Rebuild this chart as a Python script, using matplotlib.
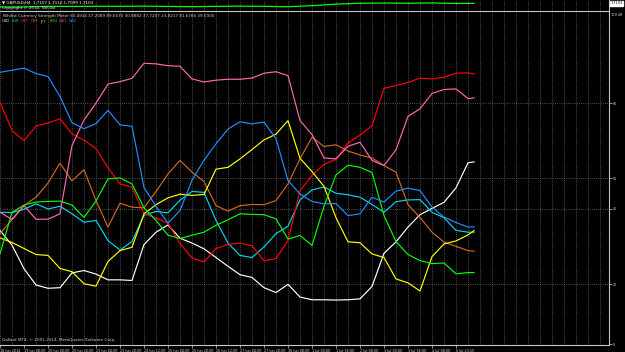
import numpy as np
import matplotlib
matplotlib.use("Agg")
import matplotlib.pyplot as plt
from matplotlib.ticker import MultipleLocator

# ---- data (H4 bars, sampled every 2 bars) ----
bars = np.r_[np.arange(0, 79, 2), 79]

usd = [37.8, 32.9, 25.1, 19.7, 18.6, 18.8, 23.7, 24.5, 23.3, 21.4, 21.4, 21.2, 33.1, 37.2,
       39.6, 35.2, 33.6, 31.7, 28.8, 25.9, 23.1, 22.2, 18.8, 17.2, 19.9, 15.7, 14.8,
       14.8, 14.7, 14.8, 15.1, 19.2, 30.2, 34.0, 38.9, 43.0, 45.1, 47.1, 51.9, 60.2, 60.5]
eur = [43.8, 43.7, 44.8, 46.6, 44.9, 45.8, 43.3, 40.5, 41.1, 34.4, 31.3, 34.1, 42.8, 44.1,
       43.6, 47.8, 50.7, 50.4, 41.1, 33.6, 29.5, 28.8, 32.3, 36.7, 39.2, 47.9, 51.2,
       52.2, 50.1, 49.6, 48.8, 46.4, 43.8, 47.3, 47.9, 48.0, 43.8, 42.0, 37.8, 37.2, 37.2]
gbp = [80.3, 70.9, 67.5, 72.4, 73.4, 74.8, 69.8, 67.7, 64.9, 58.6, 53.2, 52.1, 43.3, 41.9,
       40.2, 33.4, 28.7, 27.3, 31.8, 33.1, 33.6, 32.7, 27.7, 28.5, 34.4, 51.0, 56.0,
       59.7, 61.3, 66.8, 69.3, 72.5, 84.9, 85.8, 86.8, 88.3, 88.0, 88.6, 89.9, 90.0, 89.7]
chf = [36.7, 41.4, 46.0, 48.8, 53.5, 60.1, 54.2, 57.9, 47.7, 38.9, 46.8, 45.5, 45.3, 50.7,
       56.5, 61.0, 57.1, 54.0, 46.0, 44.2, 46.0, 46.4, 46.3, 47.7, 53.2, 61.5, 68.7,
       65.6, 66.2, 64.1, 62.8, 61.8, 59.3, 57.1, 46.3, 42.1, 37.2, 33.9, 32.5, 31.1, 30.9]
jpy = [35.3, 33.8, 31.8, 29.8, 29.5, 25.2, 24.1, 20.1, 19.3, 27.5, 31.1, 32.2, 43.3, 46.3,
       48.6, 49.8, 49.4, 49.7, 58.1, 58.7, 61.5, 64.6, 67.8, 69.7, 74.2, 61.7, 57.3,
       52.4, 42.0, 34.0, 33.7, 30.0, 28.8, 21.7, 20.4, 17.7, 29.1, 33.3, 34.3, 36.3, 37.7]
aud = [30.0, 43.8, 46.2, 47.2, 47.4, 47.5, 46.2, 42.1, 47.5, 54.9, 55.2, 53.2, 45.3, 41.1,
       36.2, 35.1, 36.2, 37.2, 39.5, 41.3, 43.3, 43.1, 43.0, 41.6, 34.9, 36.1, 32.8,
       45.8, 56.2, 59.4, 58.7, 57.0, 42.7, 34.1, 29.8, 27.8, 26.8, 27.0, 23.4, 23.8, 23.8]
cad = [43.8, 41.4, 46.0, 41.5, 41.5, 43.3, 65.9, 74.4, 80.0, 86.3, 87.1, 88.2, 93.2, 93.0,
       92.4, 92.2, 88.0, 87.0, 87.6, 87.9, 87.9, 88.3, 89.9, 90.4, 89.1, 74.2, 69.6,
       61.8, 61.5, 65.7, 67.0, 61.0, 59.3, 64.5, 75.6, 78.1, 83.2, 84.5, 84.7, 81.5, 81.7]
nzd = [90.2, 90.9, 91.6, 89.8, 88.8, 82.2, 73.5, 71.5, 73.2, 77.6, 72.8, 72.3, 52.0, 45.8,
       40.2, 44.4, 54.4, 61.1, 66.5, 71.4, 73.8, 73.1, 73.7, 68.2, 54.3, 49.9, 47.4,
       46.6, 46.7, 42.7, 43.3, 48.8, 47.2, 50.8, 51.8, 51.0, 45.5, 42.2, 40.4, 38.9, 39.0]

currencies = ["USD", "EUR", "GBP", "CHF", "JPY", "AUD", "CAD", "NZD"]
series = [usd, eur, gbp, chf, jpy, aud, cad, nzd]
colors = ["#FFFFFF", "#00D8F0", "#FF0000", "#D2691E", "#FFFF00", "#00FF00", "#FF69B4", "#1E90FF"]
legend_colors = ["#FFFFFF", "#00C0C8", "#FF2020", "#D2691E", "#C8C800", "#00D000", "#E040A0", "#1E90FF"]

levels = [80, 55, 45, 20]

price_bars = np.r_[np.arange(0, 79, 4), 79]
gbpusd = [1.6978, 1.6985, 1.7008, 1.7006, 1.7012, 1.7010, 1.7018, 1.7005, 1.6996, 1.7008,
          1.7018, 1.7010, 1.6992, 1.7040, 1.7110, 1.7150, 1.7158, 1.7150, 1.7162, 1.7140, 1.7145]

tick_bars = np.arange(0, 79, 4)
tick_labels = ["18 Jun 2014", "19 Jun 08:00", "20 Jun 00:00", "20 Jun 16:00", "23 Jun 04:00",
               "23 Jun 20:00", "24 Jun 12:00", "25 Jun 04:00", "25 Jun 20:00", "26 Jun 12:00",
               "27 Jun 04:00", "27 Jun 20:00", "30 Jun 08:00", "1 Jul 00:00", "1 Jul 16:00",
               "2 Jul 08:00", "3 Jul 00:00", "3 Jul 16:00", "4 Jul 08:00", "6 Jul 23:15"]

# ---- figure ----
W, H = 625, 352
fig = plt.figure(figsize=(W / 100, H / 100), dpi=100, facecolor="black")
plt.rcParams["font.family"] = ["DejaVu Sans"]

axis_col = "#C8C8C8"
grid_col = "#6A6A6A"
fs = 2.95
fs_tick = 2.45

right = 609 / W
# indicator window
ax = fig.add_axes([0, 1 - 345 / H, right, (345 - 12) / H], facecolor="black")
ax.set_xlim(0, 101.5)
ax.set_ylim(-0.2, 110.2)
ax.xaxis.set_minor_locator(MultipleLocator(2))
ax.grid(True, which="minor", axis="x", color=grid_col, linestyle=(0, (1, 1.6)), lw=0.6)
ax.grid(True, which="major", axis="x", color=grid_col, linestyle=(0, (1, 1.6)), lw=0.6)
for lv in levels:
    ax.axhline(lv, color=grid_col, linestyle=(0, (1, 1.6)), lw=0.6, zorder=1)

for s, c in zip(series, colors):
    ax.plot(bars, s, color=c, lw=0.85, zorder=3, solid_joinstyle="miter")

for sp in ["left", "top"]:
    ax.spines[sp].set_visible(False)
for sp in ["right", "bottom"]:
    ax.spines[sp].set_color(axis_col)
    ax.spines[sp].set_linewidth(0.8)

ax.set_xticks(tick_bars)
ax.set_xticklabels(tick_labels, ha="left", fontsize=fs_tick, color="#D8D8D8")
ax.tick_params(axis="x", which="major", length=2, width=0.5, color=axis_col, pad=0.6)
ax.tick_params(axis="x", which="minor", length=0)
ax.yaxis.tick_right()
ax.set_yticks([0] + levels)
ax.set_yticklabels(["0"] + [str(v) for v in levels], fontsize=fs_tick, color="#D8D8D8")
ax.tick_params(axis="y", length=2, width=0.5, color=axis_col, pad=0.8)

# main price window strip
axp = fig.add_axes([0, 1 - 11 / H, right, 11 / H], facecolor="black")
axp.set_xlim(0, 101.5)
axp.set_ylim(1.680, 1.7295)
axp.xaxis.set_minor_locator(MultipleLocator(2))
axp.grid(True, which="both", axis="x", color=grid_col, linestyle=(0, (1, 1.6)), lw=0.6)
axp.plot(price_bars, gbpusd, color="#00FF00", lw=0.9)
axp.set_xticks(tick_bars)
axp.tick_params(which="both", length=0, labelbottom=False, labelleft=False)
for sp in ["left", "top"]:
    axp.spines[sp].set_visible(False)
for sp in ["right", "bottom"]:
    axp.spines[sp].set_color(axis_col)
    axp.spines[sp].set_linewidth(0.8)

# texts
def fy(py):
    return 1 - py / H

fig.text(2 / W, fy(3), "\u25BC GBPUSD,H4  1.7107 1.7112 1.7099 1.7103", color="white",
         fontsize=fs, va="center", ha="left")
fig.text(2 / W, fy(7.5), "Copyright \u00A9 2010, Nihilist", color="#E0E0E0",
         fontsize=fs, va="center", ha="left")
fig.text(3 / W, fy(15.5),
         "Nihilist Currency Strength Meter 60.4914 37.2089 89.6570 30.8882 37.7207 23.8217 81.6766 39.0005",
         color="#D0D0D0", fontsize=fs, va="center", ha="left")
for i, (cur, c) in enumerate(zip(currencies, legend_colors)):
    fig.text((2 + 9.5 * i) / W, fy(21.5), cur, color=c, fontsize=2.7, va="center", ha="left")
fig.text(2 / W, fy(340.5), "Gallant MT4, \u00A9 2001-2014, MetaQuotes Software Corp.",
         color="#D0D0D0", fontsize=fs, va="center", ha="left")
fig.text(610.5 / W, fy(3.5), "1.7103", color="black", fontsize=2.5, va="center", ha="left",
         bbox=dict(boxstyle="square,pad=0.15", fc="white", ec="white"))
fig.text(611 / W, fy(14.5), "109.48", color="#D8D8D8", fontsize=2.5, va="center", ha="left")

fig.savefig("out.png", dpi=100, facecolor="black")
